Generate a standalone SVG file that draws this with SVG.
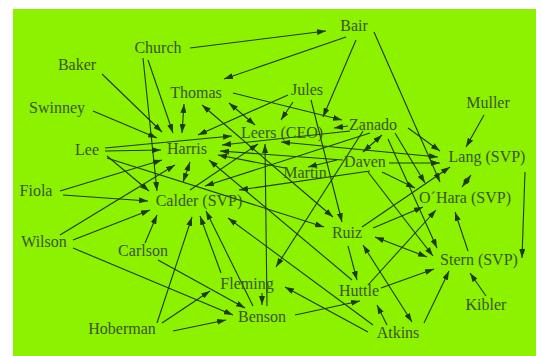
<svg xmlns="http://www.w3.org/2000/svg" width="542" height="356" viewBox="0 0 542 356">
<defs>
<style>
.bg{fill:#8cf200}
.lbl{font-family:"Liberation Serif","Times New Roman",serif;font-size:16px;fill:#3a5520;text-anchor:middle}
.e path{fill:none;stroke:#1f3a0c;stroke-width:1.1;marker-end:url(#ah)}
.e path.d{marker-start:url(#ah)}
</style>
<marker id="ah" markerUnits="userSpaceOnUse" markerWidth="9" markerHeight="6" refX="9" refY="3" orient="auto-start-reverse">
<path d="M0,0 L9,3 L0,6 z" fill="#1f3a0c"/>
</marker>
</defs>
<rect width="542" height="356" fill="#ffffff"/>
<rect class="bg" x="13" y="9" width="523" height="347"/>
<g id="connectors" class="e">
<path d="M190,48 L326,31"/>
<path d="M346,37 L224,79"/>
<path d="M356,40 L323,117"/>
<path d="M374,32 L440,182"/>
<path d="M148,60 L173,133"/>
<path d="M143,58 L157,191"/>
<path d="M102,74 L162,132"/>
<path d="M93,111 L157,138"/>
<path class="d" d="M184,104 L182,133"/>
<path class="d" d="M229,103 L255,125"/>
<path d="M233,93 L342,120"/>
<path d="M288,95 L198,135"/>
<path d="M293,102 L281,120"/>
<path d="M311,100 L342,222"/>
<path d="M348,126 L334,128"/>
<path class="d" d="M382,135 L363,152"/>
<path d="M408,128 L440,151"/>
<path d="M395,133 L425,183"/>
<path d="M388,139 L437,248"/>
<path d="M389,163 L440,163"/>
<path d="M382,172 L415,188"/>
<path d="M337,160 L308,167"/>
<path d="M368,172 L433,256"/>
<path d="M370,171 L239,190"/>
<path d="M190,190 L258,144"/>
<path d="M370,133 L205,186"/>
<path d="M484,115 L466,147"/>
<path d="M525,172 L522,258"/>
<path class="d" d="M471,175 L462,187"/>
<path d="M362,227 L450,167"/>
<path d="M373,228 L423,207"/>
<path d="M368,285 L436,210"/>
<path class="d" d="M375,237 L427,257"/>
<path d="M468,251 L455,212"/>
<path d="M486,296 L470,273"/>
<path d="M424,323 L449,271"/>
<path d="M381,288 L434,269"/>
<path d="M348,246 L357,280"/>
<path d="M387,325 L377,305"/>
<path class="d" d="M363,245 L412,322"/>
<path d="M368,332 L285,287"/>
<path d="M373,325 L228,218"/>
<path d="M295,315 L360,301"/>
<path d="M262,293 L262,305"/>
<path d="M267,306 L265,144"/>
<path d="M363,131 L276,267"/>
<path d="M352,280 L209,160"/>
<path d="M105,148 L232,136"/>
<path d="M105,151 L161,150"/>
<path d="M107,156 L149,191"/>
<path d="M107,158 L324,227"/>
<path d="M60,191 L162,160"/>
<path d="M63,195 L148,201"/>
<path d="M60,235 L175,165"/>
<path d="M73,240 L150,210"/>
<path d="M73,248 L233,315"/>
<path d="M145,243 L157,215"/>
<path d="M158,260 L245,308"/>
<path d="M157,323 L192,217"/>
<path d="M162,323 L210,291"/>
<path d="M173,331 L226,320"/>
<path d="M221,273 L200,216"/>
<path d="M253,306 L206,211"/>
<path class="d" d="M190,162 L183,182"/>
<path d="M350,131 L222,145"/>
<path d="M343,160 L220,151"/>
<path d="M285,168 L218,155"/>
<path class="d" d="M202,105 L333,217"/>
<path class="d" d="M281,142 L438,157"/>
</g>
<g id="n-bair"><text class="lbl" x="354" y="31">Bair</text></g>
<g id="n-church"><text class="lbl" x="158" y="53">Church</text></g>
<g id="n-baker"><text class="lbl" x="77" y="70">Baker</text></g>
<g id="n-thomas"><text class="lbl" x="196" y="98">Thomas</text></g>
<g id="n-jules"><text class="lbl" x="307" y="95">Jules</text></g>
<g id="n-muller"><text class="lbl" x="488" y="108">Muller</text></g>
<g id="n-swinney"><text class="lbl" x="57" y="113">Swinney</text></g>
<g id="n-leers"><text class="lbl" x="282" y="138">Leers (CEO)</text></g>
<g id="n-zanado"><text class="lbl" x="373" y="130">Zanado</text></g>
<g id="n-harris"><text class="lbl" x="187" y="154">Harris</text></g>
<g id="n-lee"><text class="lbl" x="87" y="155">Lee</text></g>
<g id="n-lang"><text class="lbl" x="487" y="162">Lang (SVP)</text></g>
<g id="n-daven"><text class="lbl" x="365" y="167">Daven</text></g>
<g id="n-martin"><text class="lbl" x="305" y="178">Martin</text></g>
<g id="n-fiola"><text class="lbl" x="36" y="196">Fiola</text></g>
<g id="n-ohara"><text class="lbl" x="465" y="203">O´Hara (SVP)</text></g>
<g id="n-calder"><text class="lbl" x="199" y="206">Calder (SVP)</text></g>
<g id="n-ruiz"><text class="lbl" x="347" y="238">Ruiz</text></g>
<g id="n-wilson"><text class="lbl" x="44" y="247">Wilson</text></g>
<g id="n-carlson"><text class="lbl" x="143" y="256">Carlson</text></g>
<g id="n-stern"><text class="lbl" x="479" y="265">Stern (SVP)</text></g>
<g id="n-fleming"><text class="lbl" x="247" y="289">Fleming</text></g>
<g id="n-huttle"><text class="lbl" x="359" y="296">Huttle</text></g>
<g id="n-kibler"><text class="lbl" x="486" y="310">Kibler</text></g>
<g id="n-benson"><text class="lbl" x="262" y="322">Benson</text></g>
<g id="n-hoberman"><text class="lbl" x="122" y="334">Hoberman</text></g>
<g id="n-atkins"><text class="lbl" x="398" y="338">Atkins</text></g>
</svg>
